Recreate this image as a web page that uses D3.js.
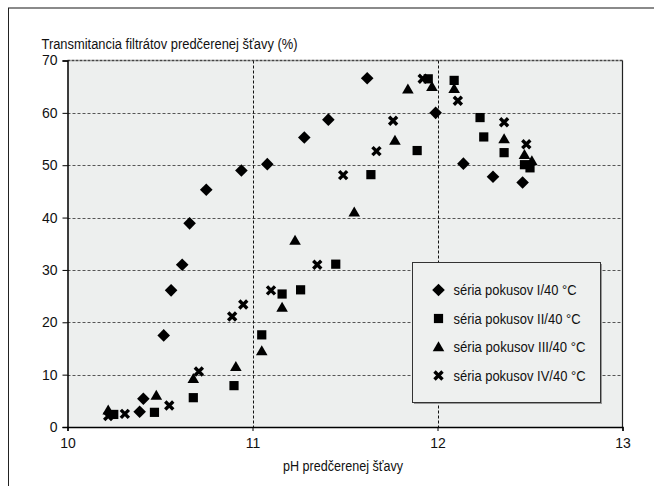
<!DOCTYPE html>
<html>
<head>
<meta charset="utf-8">
<script src="https://cdn.jsdelivr.net/npm/d3@7"></script>
<style>
  html, body { margin: 0; padding: 0; background: #fff; }
  svg text { font-family: "Liberation Sans", Arial, sans-serif; fill: #111; }
</style>
</head>
<body>
<svg id="chart" width="654" height="486"></svg>
<script>
// pH of the limed juice and filtrate transmittance (%) for each experiment series
const seriesNames = [
  "séria pokusov I/40 °C",
  "séria pokusov II/40 °C",
  "séria pokusov III/40 °C",
  "séria pokusov IV/40 °C"
];
const symbols = ["diamond", "square", "triangle", "cross"];

const pH_I = [10.39, 10.41, 10.52, 10.56, 10.62, 10.66, 10.75, 10.94, 11.08, 11.28, 11.41, 11.62, 11.99, 12.14, 12.30, 12.46];
const T_I  = [2.9, 5.4, 17.5, 26.1, 31.0, 38.9, 45.3, 49.0, 50.2, 55.3, 58.7, 66.6, 60.0, 50.3, 47.8, 46.7];

const pH_II = [10.25, 10.47, 10.68, 10.90, 11.05, 11.16, 11.26, 11.45, 11.64, 11.89, 11.95, 12.09, 12.23, 12.25, 12.36, 12.47, 12.50];
const T_II  = [2.4, 2.8, 5.6, 7.9, 17.6, 25.4, 26.2, 31.1, 48.2, 52.8, 66.5, 66.2, 59.1, 55.4, 52.4, 50.1, 49.5];

const pH_III = [10.22, 10.48, 10.68, 10.91, 11.05, 11.16, 11.23, 11.55, 11.77, 11.84, 11.97, 12.09, 12.36, 12.47, 12.51];
const T_III  = [3.2, 6.0, 9.2, 11.5, 14.5, 22.8, 35.6, 41.0, 54.7, 64.5, 65.0, 64.6, 55.0, 52.0, 50.8];

const pH_IV = [10.22, 10.31, 10.55, 10.71, 10.89, 10.95, 11.10, 11.35, 11.49, 11.67, 11.76, 11.92, 12.11, 12.36, 12.48];
const T_IV  = [2.1, 2.5, 4.1, 10.6, 21.1, 23.4, 26.1, 31.0, 48.1, 52.7, 58.5, 66.5, 62.3, 58.2, 54.0];

const xTicks = [10, 11, 12, 13];
const yTicks = [0, 10, 20, 30, 40, 50, 60, 70];
const yLabel = "Transmitancia filtrátov predčerenej šťavy (%)";
const xLabel = "pH predčerenej šťavy";

const series = [
  {name: seriesNames[0], sym: symbols[0], x: pH_I,   y: T_I},
  {name: seriesNames[1], sym: symbols[1], x: pH_II,  y: T_II},
  {name: seriesNames[2], sym: symbols[2], x: pH_III, y: T_III},
  {name: seriesNames[3], sym: symbols[3], x: pH_IV,  y: T_IV}
];

const svg = d3.select("#chart");
const margin = {left: 67.5, right: 31.5, top: 60.5, bottom: 59};
const W = 654, H = 486;
const x = d3.scaleLinear().domain([10, 13]).range([margin.left, W - margin.right]);
const y = d3.scaleLinear().domain([0, 70]).range([H - margin.bottom, margin.top]);

// set in a condensed face: squeeze text to a given width
function condensed(sel, width) {
  sel.attr("textLength", width).attr("lengthAdjust", "spacingAndGlyphs");
}

// outer frame: grey rule on top, thin black rule on the left
svg.append("line").attr("x1", 8).attr("x2", W).attr("y1", 8).attr("y2", 8)
  .attr("stroke", "#8a8a8a").attr("stroke-width", 2);
svg.append("line").attr("x1", 8.5).attr("x2", 8.5).attr("y1", 8).attr("y2", H)
  .attr("stroke", "#222").attr("stroke-width", 1);

// plot background
svg.append("rect")
  .attr("x", x(10)).attr("y", y(70))
  .attr("width", x(13) - x(10)).attr("height", y(0) - y(70))
  .attr("fill", "#edefee");

// horizontal grid
svg.append("g").selectAll("line").data(yTicks.filter(d => d > 0 && d < 70)).join("line")
  .attr("x1", x(10)).attr("x2", x(13))
  .attr("y1", d => Math.round(y(d)) + 0.5).attr("y2", d => Math.round(y(d)) + 0.5)
  .attr("stroke", "#555").attr("stroke-width", 1).attr("stroke-dasharray", "3,2");

// vertical grid
svg.append("g").selectAll("line").data(xTicks.filter(d => d > 10 && d < 13)).join("line")
  .attr("x1", d => Math.round(x(d)) + 0.5).attr("x2", d => Math.round(x(d)) + 0.5)
  .attr("y1", y(70)).attr("y2", y(0))
  .attr("stroke", "#111").attr("stroke-width", 1).attr("stroke-dasharray", "3,2");

// top and right edges of the plot
svg.append("line").attr("x1", x(10)).attr("x2", x(13))
  .attr("y1", y(70)).attr("y2", y(70))
  .attr("stroke", "#444").attr("stroke-width", 1.5).attr("stroke-dasharray", "3,1");
svg.append("line").attr("x1", x(13)).attr("x2", x(13))
  .attr("y1", y(70)).attr("y2", y(0))
  .attr("stroke", "#222").attr("stroke-width", 1.2);

// axes
const xAxis = svg.append("g").attr("transform", `translate(0,${y(0)})`)
  .call(d3.axisBottom(x).tickValues(xTicks).tickSize(4).tickPadding(4).tickFormat(d3.format("d")));
const yAxis = svg.append("g").attr("transform", `translate(${x(10)},0)`)
  .call(d3.axisLeft(y).tickValues(yTicks).tickSize(5).tickPadding(5).tickFormat(d3.format("d")));
[xAxis, yAxis].forEach(g => {
  g.select(".domain").attr("stroke", "#000").attr("stroke-width", 1.5);
  g.selectAll(".tick line").attr("stroke", "#000");
  g.selectAll("text").attr("font-size", 14).attr("fill", "#111")
    .style("font-family", '"Liberation Sans", Arial, sans-serif');
});
xAxis.selectAll("text").attr("dy", "0.95em");

// axis titles
svg.append("text").attr("x", 41.5).attr("y", 49).attr("font-size", 14).text(yLabel)
  .call(condensed, 256);
svg.append("text").attr("x", 283).attr("y", 471).attr("font-size", 14).text(xLabel)
  .call(condensed, 120);

// marker shapes
function marker(sel, sym) {
  if (sym === "diamond") {
    sel.append("path").attr("d", "M0,-6.3L6.3,0L0,6.3L-6.3,0Z").attr("fill", "#000");
  } else if (sym === "square") {
    sel.append("rect").attr("x", -4.6).attr("y", -4.6).attr("width", 9.2).attr("height", 9.2).attr("fill", "#000");
  } else if (sym === "triangle") {
    sel.append("path").attr("d", "M0,-5.8L5.8,4.2L-5.8,4.2Z").attr("fill", "#000");
  } else {
    sel.append("path").attr("d", "M-4,-4L4,4M4,-4L-4,4")
      .attr("stroke", "#000").attr("stroke-width", 3.4).attr("fill", "none");
  }
}

// points
series.forEach(s => {
  svg.append("g").selectAll("g").data(s.x.map((v, i) => [v, s.y[i]])).join("g")
    .attr("transform", d => `translate(${x(d[0])},${y(d[1])})`)
    .each(function() { marker(d3.select(this), s.sym); });
});

// legend
const legendWidths = [123, 127, 132, 132];
const lg = svg.append("g").attr("transform", "translate(412.5,262.5)");
lg.append("rect").attr("x", 1.5).attr("y", 1.5).attr("width", 188).attr("height", 140).attr("fill", "#999");
lg.append("rect").attr("width", 188).attr("height", 140)
  .attr("fill", "#eef0ef").attr("stroke", "#333").attr("stroke-width", 1);
series.forEach((s, i) => {
  const row = lg.append("g").attr("transform", `translate(26,${27.5 + i * 28.5})`);
  marker(row, s.sym);
  row.append("text").attr("x", 15).attr("y", 5).attr("font-size", 14).text(s.name)
    .call(condensed, legendWidths[i]);
});
</script>
</body>
</html>
